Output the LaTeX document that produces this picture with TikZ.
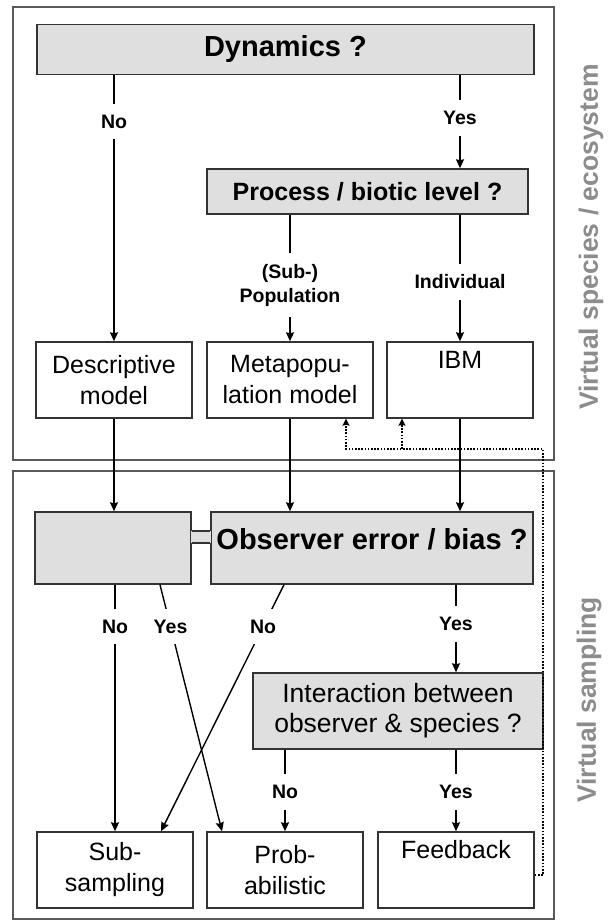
\documentclass[tikz,border=0pt]{standalone}
\usepackage{fontspec}
\setmainfont{Liberation Sans}
\usetikzlibrary{arrows.meta,calc}

\begin{document}
\begin{tikzpicture}[x=1pt,y=-1pt,
    frame/.style={draw=black!65,line width=2.2pt},
    box/.style={draw=black!80,line width=1.4pt,align=center,inner sep=0pt,
      font=\fontsize{25}{31}\selectfont},
    qbox/.style={box,fill=gray!25,font=\fontsize{29}{31}\selectfont\bfseries},
    lbl/.style={fill=white,inner xsep=2pt,inner ysep=11pt,align=center,
      font=\fontsize{19.5}{24}\selectfont\bfseries},
    arr/.style={line width=1.4pt,-{Stealth[length=9pt,width=8pt,inset=1pt]}},
    fb/.style={line width=1.4pt,dash pattern=on 1.6pt off 1.6pt,
      -{Stealth[length=7pt,width=7pt,inset=1pt]}},
    side/.style={rotate=90,text=black!45,font=\fontsize{26.5}{30}\selectfont\bfseries}]
  \useasboundingbox (0,0) rectangle (608,921);

  % frames
  \draw[frame] (13.3,6.7) rectangle (554,460);
  \draw[frame] (13.3,471) rectangle (554,919);
  \node[side] (vspec) at (591,237) {Virtual species / ecosystem};
  \node[side] (vsamp) at (589,700) {Virtual sampling};

  % virtual species
  \node[qbox,minimum width=497pt,minimum height=50pt] (dyn) at (285.4,49.2) {Dynamics ?};
  \node[qbox,minimum width=321pt,minimum height=45pt,
    font=\fontsize{25}{30}\selectfont\bfseries] (proc) at (367.5,191.5) {Process / biotic level ?};
  \node[box,minimum width=156pt,minimum height=76pt] (desc) at (114,380) {Descriptive\\model};
  \node[box,minimum width=166pt,minimum height=76pt] (meta) at (290,380) {Metapopu-\\lation model};
  \node[box,minimum width=146pt,minimum height=76pt] (ibm) at (460,380) {IBM\\\strut};

  % virtual sampling
  \node[qbox,minimum width=156pt,minimum height=72pt] (obsL) at (113,548) {};
  \node[qbox,minimum width=322pt,minimum height=72pt,text height=21pt,text depth=18pt] (obsR)
    at (372,548) {Observer error / bias ?};
  \node[qbox,minimum width=290pt,minimum height=76pt,
    font=\fontsize{26.5}{30}\selectfont] (inter) at (398,711) {Interaction between\\observer \& species ?};
  \node[box,minimum width=156pt,minimum height=76pt] (sub) at (115,870) {Sub-\\sampling};
  \node[box,minimum width=156pt,minimum height=76pt] (prob) at (285,870) {Prob-\\abilistic};
  \node[box,minimum width=156pt,minimum height=76pt] (feed) at (456,870) {Feedback\\\strut};

  % neck between the two observer parts
  \coordinate (neckT) at (0,531);
  \coordinate (neckB) at (0,543);
  \fill[gray!25] ([xshift=-1pt]obsL.east |- neckT) rectangle ([xshift=1pt]obsR.west |- neckB);
  \draw[draw=black!80,line width=1.4pt] (obsL.east |- neckT) -- (obsR.west |- neckT)
    (obsL.east |- neckB) -- (obsR.west |- neckB);

  % decisions
  \draw[arr] (dyn.south -| desc.north) -- node[lbl,pos=0.175] {No} (desc.north);
  \draw[arr] (dyn.south -| ibm.north) -- node[lbl,pos=0.46] {Yes} (proc.north -| ibm.north);
  \draw[arr] (proc.south -| meta.north) -- node[lbl,pos=0.555] {(Sub-)\\Population} (meta.north);
  \draw[arr] (proc.south -| ibm.north) -- node[lbl,pos=0.53] {Individual} (ibm.north);
  \draw[arr] (desc.south) -- (obsL.north -| desc.south);
  \draw[arr] (meta.south) -- (obsR.north -| meta.south);
  \draw[arr] (ibm.south) -- (obsR.north -| ibm.south);

  \draw[arr] (obsL.south -| sub.north) -- node[lbl,pos=0.17] {No} (sub.north);
  \draw[arr] ([xshift=47pt]obsL.south) -- node[lbl,pos=0.17] {Yes} ([xshift=-63pt]prob.north);
  \draw[arr] ([xshift=-88pt]obsR.south) -- node[lbl,pos=0.17] {No} ([xshift=46pt]sub.north);
  \draw[arr] (obsR.south -| feed.north) -- node[lbl,pos=0.45] {Yes} (inter.north -| feed.north);
  \draw[arr] (inter.south -| prob.north) -- node[lbl,pos=0.52] {No} (prob.north);
  \draw[arr] (inter.south -| feed.north) -- node[lbl,pos=0.52] {Yes} (feed.north);

  % feedback loop
  \coordinate (loop) at (543,449);
  \draw[fb] ([yshift=-5pt]feed.east) -| (loop) -| ([xshift=56pt]meta.south);
  \draw[fb] ([xshift=-58pt]ibm.south |- loop) -- ([xshift=-58pt]ibm.south);
\end{tikzpicture}
\end{document}
